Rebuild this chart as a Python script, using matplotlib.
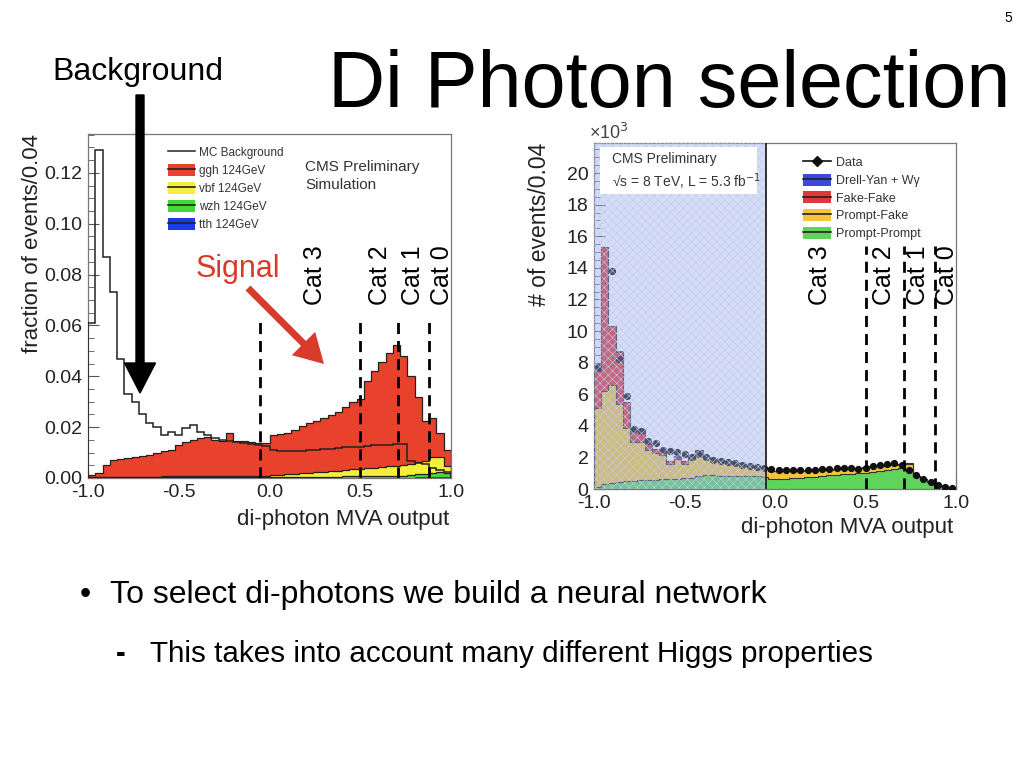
import numpy as np
import matplotlib
matplotlib.use("Agg")
import matplotlib.pyplot as plt
from matplotlib.patches import Patch, FancyArrow, Rectangle
from matplotlib.lines import Line2D
from matplotlib.ticker import MultipleLocator

plt.rcParams['font.family'] = ['Liberation Sans', 'DejaVu Sans']
plt.rcParams['hatch.linewidth'] = 0.4

# binning of both histograms: 50 bins of 0.04 between -1 and 1
edges = np.linspace(-1.0, 1.0, 51)

# ---- left panel: signal MC (fraction of events / 0.04)
bkg = [0.061, 0.129, 0.087, 0.073, 0.047, 0.033, 0.030, 0.025, 0.0215, 0.020,
       0.017, 0.018, 0.017, 0.0195, 0.021, 0.018, 0.017, 0.0157, 0.015, 0.0145,
       0.014, 0.0137, 0.0135, 0.013, 0.0125, 0.011, 0.0105, 0.0105, 0.0105, 0.0108,
       0.011, 0.0112, 0.0115, 0.0115, 0.0118, 0.012, 0.012, 0.0122, 0.0125, 0.0128,
       0.013, 0.013, 0.0134, 0.0134, 0.0065, 0.006, 0.0055, 0.004, 0.003, 0.0025]
ggh = [0.0010, 0.0017, 0.0047, 0.0069, 0.0072, 0.0076, 0.0080, 0.0083, 0.0087, 0.0095,
       0.0099, 0.0104, 0.0124, 0.0134, 0.0144, 0.0151, 0.0154, 0.0142, 0.0139, 0.0169,
       0.0137, 0.0137, 0.0132, 0.0129, 0.0127, 0.0158, 0.0162, 0.0164, 0.0174, 0.0185,
       0.0196, 0.0203, 0.0212, 0.0223, 0.0232, 0.0246, 0.0266, 0.0274, 0.0342, 0.0380,
       0.0410, 0.0443, 0.0476, 0.0428, 0.0345, 0.0258, 0.0158, 0.0154, 0.0094, 0.0062]
vbf = [0.0001, 0.0001, 0.0001, 0.0001, 0.0001, 0.0002, 0.0002, 0.0002, 0.0002, 0.0002,
       0.0003, 0.0003, 0.0003, 0.0003, 0.0003, 0.0004, 0.0004, 0.0004, 0.0004, 0.0004,
       0.0005, 0.0005, 0.0005, 0.0006, 0.0006, 0.0008, 0.0009, 0.0010, 0.0012, 0.0014,
       0.0016, 0.0018, 0.0020, 0.0022, 0.0024, 0.0026, 0.0028, 0.0030, 0.0032, 0.0034,
       0.0036, 0.0038, 0.0040, 0.0043, 0.0046, 0.0048, 0.0050, 0.0062, 0.0062, 0.0028]
wzh = [0.0002, 0.0002, 0.0002, 0.0002, 0.0002, 0.0002, 0.0002, 0.0002, 0.0002, 0.0002,
       0.0003, 0.0003, 0.0003, 0.0003, 0.0003, 0.0003, 0.0003, 0.0003, 0.0003, 0.0003,
       0.0003, 0.0003, 0.0003, 0.0003, 0.0003, 0.0004, 0.0004, 0.0004, 0.0004, 0.0004,
       0.0004, 0.0004, 0.0004, 0.0004, 0.0004, 0.0006, 0.0006, 0.0006, 0.0006, 0.0006,
       0.0009, 0.0009, 0.0009, 0.0009, 0.0009, 0.0012, 0.0014, 0.0016, 0.0017, 0.0015]
tth = [0.0, 0.0, 0.0, 0.0, 0.0, 0.0, 0.0, 0.0, 0.0, 0.0,
       0.0, 0.0, 0.0, 0.0, 0.0, 0.0, 0.0, 0.0, 0.0, 0.0,
       0.0, 0.0, 0.0, 0.0, 0.0, 0.0, 0.0, 0.0, 0.0, 0.0,
       0.0, 0.0, 0.0, 0.0, 0.0, 0.0, 0.0, 0.0, 0.0, 0.0,
       0.0, 0.0, 0.0, 0.0, 0.0001, 0.0002, 0.0003, 0.0004, 0.0005, 0.0005]

# ---- right panel: data vs background model (x10^3 events / 0.04)
data = [7.7, 18.9, 13.8, 8.2, 5.9, 3.8, 3.7, 3.05, 2.9, 2.5,
        2.4, 2.35, 2.2, 2.05, 2.2, 2.0, 1.85, 1.8, 1.72, 1.62,
        1.55, 1.46, 1.4, 1.32, 1.27, 1.2, 1.22, 1.2, 1.18, 1.18,
        1.2, 1.27, 1.29, 1.31, 1.31, 1.31, 1.29, 1.31, 1.46, 1.5,
        1.6, 1.67, 1.52, 1.2, 0.87, 0.65, 0.44, 0.27, 0.15, 0.05]
prompt_prompt = [0.1, 0.3, 0.4, 0.45, 0.5, 0.52, 0.55, 0.58, 0.6, 0.62,
                 0.65, 0.66, 0.7, 0.72, 0.85, 0.86, 0.86, 0.85, 0.84, 0.83,
                 0.82, 0.8, 0.8, 0.78, 0.63, 0.63, 0.66, 0.7, 0.72, 0.75,
                 0.78, 0.82, 0.86, 0.9, 0.93, 0.97, 1.0, 1.04, 1.1, 1.15,
                 1.2, 1.26, 1.3, 1.27, 0.85, 0.62, 0.42, 0.25, 0.12, 0.04]
prompt_fake = [5.0, 5.9, 6.2, 4.95, 3.35, 2.48, 2.45, 1.87, 1.7, 1.53,
               0.95, 1.24, 0.9, 1.18, 1.45, 1.09, 1.04, 0.95, 0.88, 0.79,
               0.73, 0.66, 0.6, 0.54, 0.49, 0.49, 0.46, 0.44, 0.43, 0.41,
               0.40, 0.38, 0.36, 0.35, 0.35, 0.33, 0.33, 0.32, 0.32, 0.30,
               0.30, 0.29, 0.28, 0.33, 0.0, 0.0, 0.0, 0.0, 0.0, 0.0]
fake_fake = [2.4, 9.1, 3.7, 3.3, 1.65, 0.85, 0.8, 0.45, 0.25, 0.3,
             0.15, 0.15, 0.15, 0.15, 0.15, 0.1, 0.05, 0.05, 0.03, 0.03,
             0.03, 0.02, 0.02, 0.02, 0.02, 0.02, 0.02, 0.02, 0.02, 0.02,
             0.02, 0.02, 0.02, 0.02, 0.02, 0.02, 0.02, 0.02, 0.02, 0.02,
             0.02, 0.02, 0.02, 0.02, 0.0, 0.0, 0.0, 0.0, 0.0, 0.0]
drell_yan = [0.02, 0.03, 0.02, 0.02, 0.01, 0.01, 0.01, 0.01, 0.01, 0.01,
             0.01, 0.01, 0.01, 0.01, 0.01, 0.01, 0.01, 0.01, 0.01, 0.01,
             0.01, 0.01, 0.01, 0.01, 0.01, 0.0, 0.0, 0.0, 0.0, 0.0,
             0.0, 0.0, 0.0, 0.0, 0.0, 0.0, 0.0, 0.0, 0.0, 0.0,
             0.0, 0.0, 0.0, 0.0, 0.0, 0.0, 0.0, 0.0, 0.0, 0.0]

cat_cuts_left = [-0.05, 0.5, 0.71, 0.88]
cat_cuts_right = [0.5, 0.71, 0.885]
cat_names = ['Cat 3', 'Cat 2', 'Cat 1', 'Cat 0']
cat_label_x = [0.25, 0.61, 0.79, 0.95]

W, H = 1024, 768
fig = plt.figure(figsize=(10.24, 7.68), dpi=100)


def px(x, y):
    return x / W, 1 - y / H


def root_axes(rect, ymax, ymajor, yminor, ylabels):
    ax = fig.add_axes(rect)
    ax.set_xlim(-1, 1)
    ax.set_ylim(0, ymax)
    ax.xaxis.set_major_locator(MultipleLocator(0.5))
    ax.xaxis.set_minor_locator(MultipleLocator(0.1))
    ax.yaxis.set_major_locator(MultipleLocator(ymajor))
    ax.yaxis.set_minor_locator(MultipleLocator(yminor))
    ax.set_xticks([-1, -0.5, 0, 0.5, 1])
    ax.set_xticklabels(['-1.0', '-0.5', '0.0', '0.5', '1.0'])
    ax.set_yticks(np.arange(len(ylabels)) * ymajor)
    ax.set_yticklabels(ylabels)
    ax.tick_params(which='both', direction='in', top=False, right=False,
                   labelsize=14, labelcolor='#222', color='#555')
    ax.tick_params(which='major', length=8, pad=4)
    ax.tick_params(which='minor', length=4)
    for s in ax.spines.values():
        s.set_color('#777')
        s.set_linewidth(0.9)
    return ax


# ================= left panel =================
axL = root_axes([88 / W, 1 - 478 / H, 363 / W, 344 / H], 0.1353, 0.02, 0.005,
                ['0.00', '0.02', '0.04', '0.06', '0.08', '0.10', '0.12'])
c1 = np.array(tth)
c2 = c1 + np.array(wzh)
c3 = c2 + np.array(vbf)
c4 = c3 + np.array(ggh)
sig_cols = ['#1c3be6', '#43d83a', '#f4ee3c', '#e8412c']
for top, bot, col in zip([c1, c2, c3, c4], [0, c1, c2, c3], sig_cols):
    axL.stairs(top, edges, baseline=bot, fill=True, color=col, zorder=2)
for top in [c2, c3, c4]:
    axL.stairs(top, edges, color='#222', lw=0.9, zorder=3)
axL.stairs(bkg, edges, color='#222', lw=1.1, zorder=4)
for xc in cat_cuts_left:
    axL.plot([xc, xc], [0, 0.0628], color='k', lw=2, ls=(0, (4, 2.5)), zorder=5)
for xl, name in zip(cat_label_x, cat_names):
    axL.text(xl, 0.068, name, rotation=90, ha='center', va='bottom', fontsize=18)

hL = [Line2D([], [], color='#222', lw=1.1)]
for col in ['#e8412c', '#f4ee3c', '#43d83a', '#1c3be6']:
    hL.append((Patch(facecolor=col, edgecolor='none'), Line2D([], [], color='#222', lw=1.2)))
axL.legend(hL, ['MC Background', 'ggh 124GeV', 'vbf 124GeV', 'wzh 124GeV', 'tth 124GeV'],
           loc='upper left', bbox_to_anchor=(0.19, 0.995), frameon=False, fontsize=8.5,
           handlelength=2.3, handleheight=1.2, labelspacing=0.42, handletextpad=0.4,
           labelcolor='#333')
axL.text(0.598, 0.925, 'CMS Preliminary\nSimulation', transform=axL.transAxes,
         ha='left', va='top', fontsize=11, color='#333', linespacing=1.35)

# ================= right panel =================
axR = root_axes([594 / W, 1 - 489 / H, 362 / W, 346 / H], 21.9, 2, 0.5,
                ['0', '2', '4', '6', '8', '10', '12', '14', '16', '18', '20'])
r1 = np.array(prompt_prompt)
r2 = r1 + np.array(prompt_fake)
r3 = r2 + np.array(fake_fake)
r4 = r3 + np.array(drell_yan)
bkg_cols = ['#5fd35c', '#f4c53a', '#e0383a', '#3848e0']
for top, bot, col in zip([r1, r2, r3, r4], [0, r1, r2, r3], bkg_cols):
    axR.stairs(top, edges, baseline=bot, fill=True, color=col, zorder=2)
for top in [r1, r2, r3]:
    axR.stairs(top, edges, color='#333', lw=0.8, zorder=3)
centers = 0.5 * (edges[1:] + edges[:-1])
axR.plot(centers, data, 'o', color='#111', ms=4.2, zorder=4)
# blinded region overlay
axR.axvspan(-1, -0.05, facecolor='#9aaee8', alpha=0.42, lw=0, zorder=5)
axR.axvspan(-1, -0.05, facecolor='none', edgecolor='#c0cbec', hatch='xxxx', lw=0, zorder=5)
axR.axvline(-0.05, color='#222', lw=1.3, zorder=6)
for xc in cat_cuts_right:
    axR.plot([xc, xc], [0, 15.36], color='k', lw=2, ls=(0, (4, 2.5)), zorder=6)
cat_label_x_r = [0.25, 0.6, 0.79, 0.95]
for xl, name in zip(cat_label_x_r, cat_names):
    axR.text(xl, 11.65, name, rotation=90, ha='center', va='bottom', fontsize=18, zorder=7)

axR.add_patch(Rectangle((-0.967, 18.7), 0.87, 2.95, facecolor='white', edgecolor='none', zorder=7))
axR.text(-0.9, 21.3, 'CMS Preliminary', ha='left', va='top', fontsize=10, color='#333', zorder=8)
axR.text(-0.9, 20.1, '√s = 8 TeV, L = 5.3 fb$^{-1}$', ha='left', va='top', fontsize=10,
         color='#333', zorder=8)

hR = [Line2D([], [], color='#111', lw=1.2, marker='D', ms=5)]
for col in ['#3848e0', '#e0383a', '#f4c53a', '#5fd35c']:
    hR.append((Patch(facecolor=col, edgecolor='none'), Line2D([], [], color='#222', lw=1.2)))
legR = axR.legend(hR, ['Data', 'Drell-Yan + Wγ', 'Fake-Fake', 'Prompt-Fake', 'Prompt-Prompt'],
                  loc='upper left', bbox_to_anchor=(0.545, 0.995), frameon=False, fontsize=9,
                  handlelength=2.3, handleheight=1.1, labelspacing=0.36, handletextpad=0.4,
                  labelcolor='#333')
legR.set_zorder(9)

# axis titles, ROOT style (aligned to the frame ends)
fig.text(*px(449, 520), 'di-photon MVA output', ha='right', va='center', fontsize=16, color='#222')
fig.text(*px(33, 134), 'fraction of events/0.04', ha='center', va='top', rotation=90,
         fontsize=16, color='#222')
fig.text(*px(953, 528), 'di-photon MVA output', ha='right', va='center', fontsize=16, color='#222')
fig.text(*px(539, 143), '# of events/0.04', ha='center', va='top', rotation=90,
         fontsize=16.5, color='#222')
fig.text(*px(589, 133), '×10$^{3}$', ha='left', va='center', fontsize=13, color='#444')

# ================= slide texts =================
fig.text(*px(1012, 18), '5', ha='right', va='center', fontsize=10)
fig.text(*px(328, 107), 'Di Photon selection', ha='left', va='baseline', fontsize=57)
fig.text(*px(52, 80), 'Background', ha='left', va='baseline', fontsize=23)
fig.text(*px(196, 277), 'Signal', ha='left', va='baseline', fontsize=22, color='#d93b2b')
fig.text(*px(80, 603), '•', ha='left', va='baseline', fontsize=23)
fig.text(*px(110, 603), 'To select di-photons we build a neural network', ha='left',
         va='baseline', fontsize=23)
fig.text(*px(116, 662), '-', ha='left', va='baseline', fontsize=21, fontweight='bold')
fig.text(*px(150, 662), 'This takes into account many different Higgs properties', ha='left',
         va='baseline', fontsize=21.3)

# arrows on top of everything
over = fig.add_axes([0, 0, 1, 1])
over.set_xlim(0, W)
over.set_ylim(H, 0)
over.axis('off')
over.add_patch(FancyArrow(140, 95, 0, 298, width=8, head_width=31, head_length=30,
                          length_includes_head=True, color='k'))
over.add_patch(FancyArrow(248, 288, 76, 76, width=7, head_width=33, head_length=29,
                          length_includes_head=True, color='#d93b2b', lw=0))

fig.savefig('out.png', dpi=100)
